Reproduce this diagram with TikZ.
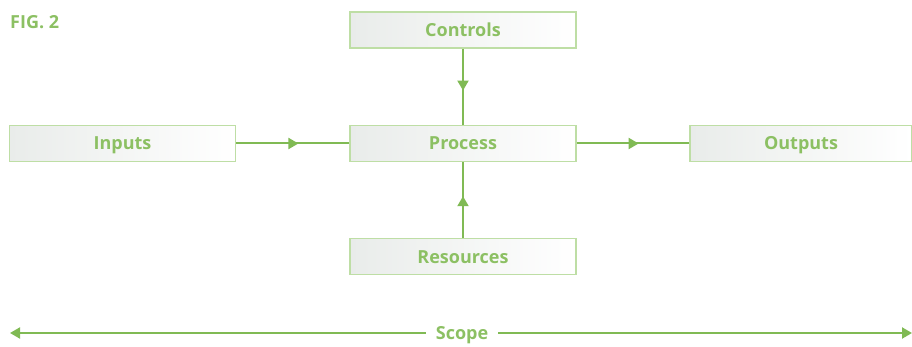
\documentclass[tikz,border=0pt]{standalone}
\usepackage{fontspec}
\setmainfont{Open Sans}
\usetikzlibrary{arrows.meta,decorations.markings}
\definecolor{lineg}{RGB}{128,186,84}
\definecolor{textg}{RGB}{140,192,99}
\definecolor{boxedge}{RGB}{190,222,165}
\definecolor{boxgrey}{RGB}{233,236,234}
\tikzset{
  x=1pt,y=-1pt,
  box/.style={draw=boxedge,line width=1.2pt,left color=boxgrey,right color=white,
    minimum width=226pt,minimum height=36pt,inner sep=0pt,
    text height=13pt,text depth=0pt,
    font=\fontsize{18}{20}\selectfont\bfseries,text=textg},
  conn/.style={draw=lineg,line width=2pt,
    postaction={decorate},
    decoration={markings,mark=at position 0.55 with {\arrow{Triangle[length=10pt,width=11pt]}}}},
  lbl/.style={font=\fontsize{18}{20}\selectfont\bfseries,text=textg,inner sep=0pt,
    text height=13pt,text depth=0pt}
}
\begin{document}
\begin{tikzpicture}
\useasboundingbox (0,0) rectangle (912,347);
\node[lbl,anchor=west] (fig) at (10,22) {FIG. 2};
\node[box] (controls) at (463,30) {Controls};
\node[box] (inputs) at (122.5,143.5) {Inputs};
\node[box] (process) at (463,143.5) {Process};
\node[box,minimum width=222pt] (outputs) at (801,143.5) {Outputs};
\node[box] (resources) at (463,256.5) {Resources};
\draw[conn] (controls) -- (process);
\draw[conn] (inputs) -- (process);
\draw[conn] (process) -- (outputs);
\draw[conn] (resources) -- (process);
\node[lbl] (scope) at (462,333) {Scope};
\coordinate (sl) at (10,333);
\coordinate (sr) at (912,333);
\draw[draw=lineg,line width=2pt,-{Triangle[length=10pt,width=11pt]}] ([xshift=-10pt,yshift=0pt]scope.west) -- (sl);
\draw[draw=lineg,line width=2pt,-{Triangle[length=10pt,width=11pt]}] ([xshift=10pt]scope.east) -- (sr);
\end{tikzpicture}
\end{document}
